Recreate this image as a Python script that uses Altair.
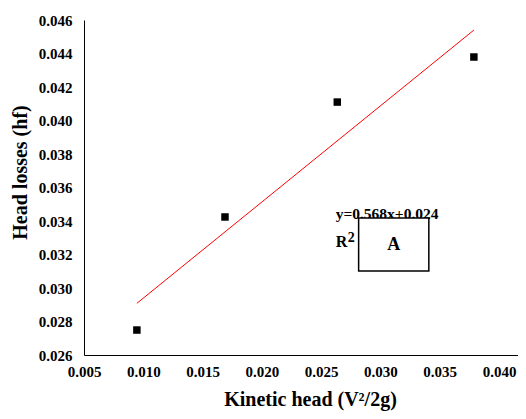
import altair as alt
import pandas as pd

# Data
kinetic_head = [0.00946, 0.01689, 0.02636, 0.03788]
head_losses = [0.02749, 0.03424, 0.04110, 0.04379]

x_ticks = [0.005, 0.010, 0.015, 0.020, 0.025, 0.030, 0.035, 0.040]
y_ticks = [0.026, 0.028, 0.030, 0.032, 0.034, 0.036, 0.038, 0.040, 0.042, 0.044, 0.046]
x_domain = [0.005, 0.0416]
y_domain = [0.026, 0.046]

eq_text = ["y=0.568x+0.024"]
eq_pos = [0.02622, 0.03412]
r_text = ["R"]
r_pos = [0.02622, 0.03245]
r_sup = ["2"]
r_sup_pos = [0.02724, 0.03275]
box_label = ["A"]
box_x = [0.02816, 0.03408]
box_y = [0.03101, 0.03418]

FONT = "Liberation Serif"

df = pd.DataFrame({"x": kinetic_head, "y": head_losses})

xs = alt.Scale(domain=x_domain, nice=False, zero=False)
ys = alt.Scale(domain=y_domain, nice=False, zero=False)

x_axis = alt.Axis(values=x_ticks, format=".3f", title="Kinetic head (V²/2g)",
                  grid=False, ticks=False, labelPadding=9, labelFontSize=15,
                  labelFont=FONT, labelFontWeight="bold", labelColor="black",
                  labelOverlap=False, labelFlush=False, labelBound=False,
                  titleFont=FONT, titleFontSize=20, titleFontWeight="bold",
                  titleColor="black", titleX=226, titleY=50,
                  titleBaseline="alphabetic", domainColor="black")
y_axis = alt.Axis(values=y_ticks, format=".3f", title="Head losses (hf)",
                  grid=False, ticks=False, labelPadding=12, labelFontSize=15,
                  labelFont=FONT, labelFontWeight="bold", labelColor="black",
                  labelOverlap=False, labelFlush=False, labelBound=False,
                  labelSeparation=0,
                  titleFont=FONT, titleFontSize=20, titleFontWeight="bold",
                  titleColor="black", titleX=-64, titleY=152,
                  titleBaseline="middle", domainColor="black")


def X(field="x"):
    return alt.X(f"{field}:Q", scale=xs, axis=x_axis)


def Y(field="y"):
    return alt.Y(f"{field}:Q", scale=ys, axis=y_axis)


base = alt.Chart(df)

points = base.mark_square(size=56, color="black", opacity=1).encode(x=X(), y=Y())

trend = base.transform_regression("x", "y").mark_line(
    color="#ff0000", strokeWidth=1
).encode(x=X(), y=Y())

eq = alt.Chart(pd.DataFrame({"t": eq_text, "x": [eq_pos[0]], "y": [eq_pos[1]]})).mark_text(
    font=FONT, fontSize=15.5, fontWeight="bold", align="left", baseline="alphabetic", color="black"
).encode(x=X(), y=Y(), text="t:N")

r = alt.Chart(pd.DataFrame({"t": r_text, "x": [r_pos[0]], "y": [r_pos[1]]})).mark_text(
    font=FONT, fontSize=16, fontWeight="bold", align="left", baseline="alphabetic", color="black"
).encode(x=X(), y=Y(), text="t:N")

r2 = alt.Chart(pd.DataFrame({"t": r_sup, "x": [r_sup_pos[0]], "y": [r_sup_pos[1]]})).mark_text(
    font=FONT, fontSize=14, fontWeight="bold", align="left", baseline="alphabetic", color="black"
).encode(x=X(), y=Y(), text="t:N")

box = alt.Chart(pd.DataFrame({"x": [box_x[0]], "x2": [box_x[1]],
                              "y": [box_y[0]], "y2": [box_y[1]]})).mark_rect(
    fill="white", stroke="black", strokeWidth=1.5
).encode(x=X(), x2="x2:Q", y=Y(), y2="y2:Q")

box_txt = alt.Chart(pd.DataFrame({"t": box_label,
                                  "x": [(box_x[0] + box_x[1]) / 2],
                                  "y": [(box_y[0] + box_y[1]) / 2]})).mark_text(
    font=FONT, fontSize=18, fontWeight="bold", align="center", baseline="middle", color="black"
).encode(x=X(), y=Y(), text="t:N")

chart = alt.layer(points, trend, eq, r, r2, box, box_txt).properties(
    width=434, height=335,
    autosize=alt.AutoSizeParams(type="none"),
    padding={"left": 76, "top": 12, "right": 0, "bottom": 56},
    background="white",
).configure_view(stroke=None).configure_axis(labelOverlap=False)

chart.save("out.html", embed_options={"renderer": "svg", "actions": False})
